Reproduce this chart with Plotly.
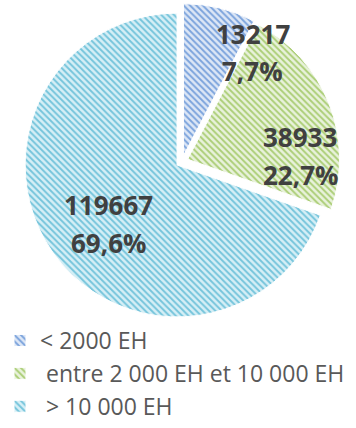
import plotly.graph_objects as go

# Share of EH by plant size class
categories = ["< 2000 EH", "\u00a0entre 2 000 EH et 10 000 EH", "\u00a0> 10 000 EH"]
values = [13217, 38933, 119667]

fg_colors = ["#7ba3dc", "#abce76", "#74c4db"]
bg_colors = ["#dde7f6", "#e9f2dc", "#d6eff6"]

# label anchor points (paper coords) for the value / percent annotations
label_xy = [(0.710, 0.921), (0.843, 0.680), (0.305, 0.520)]
line_gap = 0.088

total = sum(values)
pct_text = [f"{v / total * 100:.1f}%".replace(".", ",") for v in values]

fig = go.Figure(
    go.Pie(
        labels=categories,
        values=values,
        sort=False,
        direction="clockwise",
        rotation=0,
        pull=[0.04, 0.04, 0.04],
        textinfo="none",
        hoverinfo="label+value+percent",
        marker=dict(
            colors=bg_colors,
            line=dict(color="white", width=1),
            pattern=dict(
                shape="\\",
                fgcolor=fg_colors,
                bgcolor=bg_colors,
                size=4.5,
                solidity=0.42,
                fillmode="replace",
            ),
        ),
        domain=dict(x=[0.0674, 0.955], y=[0.2535, 0.9918]),
    )
)

for (x, y), v, p in zip(label_xy, values, pct_text):
    for txt, yy in ((str(v), y), (p, y - line_gap)):
        fig.add_annotation(
            x=x, y=yy, xref="paper", yref="paper",
            text=f"<b>{txt}</b>", showarrow=False,
            font=dict(family="Open Sans", size=26, color="#404040"),
            xanchor="center", yanchor="middle",
        )

fig.update_layout(
    width=356,
    height=428,
    margin=dict(l=0, r=0, t=0, b=0),
    paper_bgcolor="white",
    plot_bgcolor="white",
    showlegend=True,
    legend=dict(
        x=0, y=0, xanchor="left", yanchor="bottom",
        orientation="v",
        font=dict(family="Open Sans", size=23, color="#595959"),
        bgcolor="rgba(0,0,0,0)",
        itemwidth=30,
    ),
)

fig.write_html("out.html")
